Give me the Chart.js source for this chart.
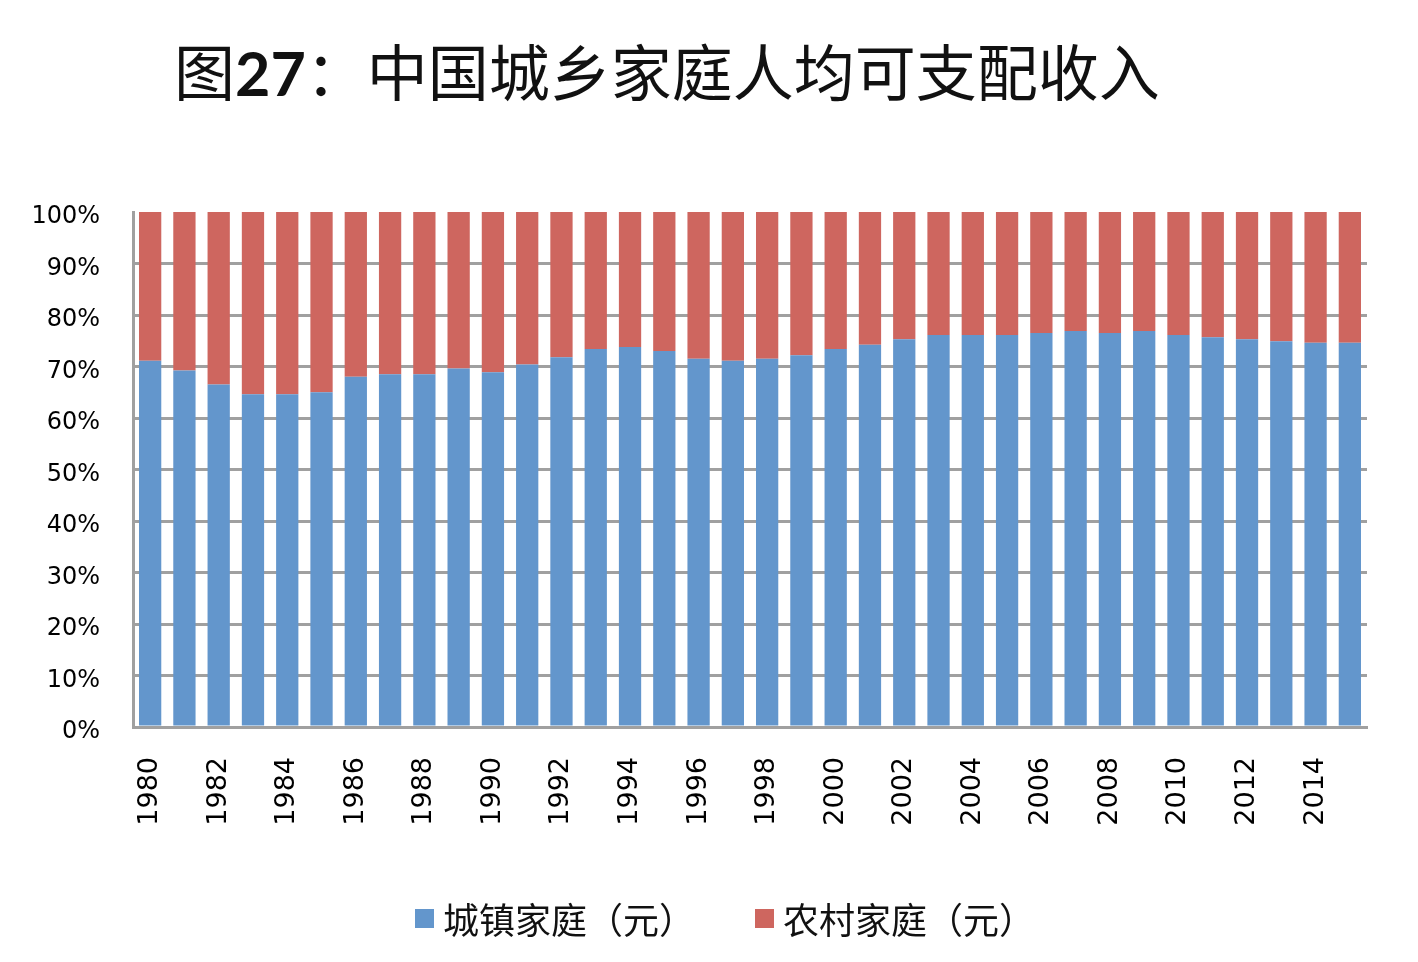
<!DOCTYPE html>
<html>
<head>
<meta charset="utf-8">
<script src="https://cdn.jsdelivr.net/npm/chart.js@4/dist/chart.umd.min.js"></script>
<style>
    html, body { margin: 0; padding: 0; background: #fff; }
    #wrap { position: relative; width: 1418px; height: 962px; overflow: hidden; }
    #chart { position: absolute; left: 0; top: 0; }
    #title {
        position: absolute; left: 174px; top: 37px; white-space: nowrap;
        font-family: "Noto Sans CJK SC", sans-serif; font-size: 61px; line-height: 66px; color: #111;
    }
    #title b { font-family: Lato, "Open Sans", sans-serif; font-weight: 700; }
    #legend {
        position: absolute; left: 415px; top: 896px; height: 44px; display: flex; align-items: center;
        font-family: "Noto Sans CJK SC", sans-serif; font-size: 36px; color: #111;
    }
    .item { display: flex; align-items: center; margin-right: 60px; }
    .box { width: 19px; height: 19px; margin-right: 9px; }
</style>
</head>
<body>
<div id="wrap">
    <canvas id="chart" width="1418" height="962"></canvas>
    <div id="title">图<b>27</b>：中国城乡家庭人均可支配收入</div>
    <div id="legend"></div>
</div>
<script>
const years = [
    '1980', '1981', '1982', '1983', '1984', '1985', '1986', '1987', '1988', '1989',
    '1990', '1991', '1992', '1993', '1994', '1995', '1996', '1997', '1998', '1999',
    '2000', '2001', '2002', '2003', '2004', '2005', '2006', '2007', '2008', '2009',
    '2010', '2011', '2012', '2013', '2014', '2015'
];

// share of per-capita disposable income, %
const urbanShare = [
    71.1, 69.2, 66.5, 64.6, 64.6, 65.0, 68.0, 68.5, 68.5, 69.6,
    68.9, 70.4, 71.8, 73.4, 73.8, 73.0, 71.5, 71.1, 71.5, 72.2,
    73.4, 74.2, 75.3, 76.1, 76.1, 76.1, 76.5, 76.9, 76.5, 76.9,
    76.1, 75.7, 75.3, 74.9, 74.6, 74.6
];
const ruralShare = [
    28.9, 30.8, 33.5, 35.4, 35.4, 35.0, 32.0, 31.5, 31.5, 30.4,
    31.1, 29.6, 28.2, 26.6, 26.2, 27.0, 28.5, 28.9, 28.5, 27.8,
    26.6, 25.8, 24.7, 23.9, 23.9, 23.9, 23.5, 23.1, 23.5, 23.1,
    23.9, 24.3, 24.7, 25.1, 25.4, 25.4
];

const seriesNames = ['城镇家庭（元）', '农村家庭（元）'];
const seriesColors = ['#6396CC', '#CE665F'];
const yTicks = [0, 10, 20, 30, 40, 50, 60, 70, 80, 90, 100];

const fontFamily = '"DejaVu Sans", Verdana, sans-serif';
const gridGray = '#a0a0a0';

const chart = new Chart(document.getElementById('chart'), {
    type: 'bar',
    data: {
        labels: years,
        datasets: [
            { label: seriesNames[0], data: urbanShare, backgroundColor: seriesColors[0] },
            { label: seriesNames[1], data: ruralShare, backgroundColor: seriesColors[1] }
        ]
    },
    options: {
        responsive: false,
        animation: false,
        layout: { padding: { top: 212, right: 51, bottom: 0, left: 0 } },
        datasets: { bar: { categoryPercentage: 1, barPercentage: 0.65 } },
        plugins: { legend: { display: false }, tooltip: { enabled: false } },
        scales: {
            x: {
                stacked: true,
                grid: { display: false, drawTicks: false },
                border: { color: gridGray, width: 3 },
                ticks: {
                    autoSkip: false, minRotation: 90, maxRotation: 90, padding: 30,
                    color: '#000', font: { family: fontFamily, size: 27 },
                    callback: (v, i) => (i % 2 === 0 ? years[i] : '')
                },
                afterFit: (scale) => { scale.height = 235; }
            },
            y: {
                stacked: true,
                min: 0,
                max: 100,
                afterBuildTicks: (scale) => { scale.ticks = yTicks.map(v => ({ value: v })); },
                grid: {
                    drawTicks: false,
                    lineWidth: 3,
                    color: (ctx) => (ctx.tick && ctx.tick.value === 100 ? 'rgba(0,0,0,0)' : gridGray)
                },
                border: { color: gridGray, width: 3 },
                ticks: {
                    padding: 33, labelOffset: 5, color: '#000',
                    font: { family: fontFamily, size: 24 },
                    callback: v => v + '%'
                },
                afterFit: (scale) => { scale.width = 133; }
            }
        }
    }
});

// legend
const legendEl = document.getElementById('legend');
seriesNames.forEach((name, i) => {
    const item = document.createElement('div');
    item.className = 'item';
    item.innerHTML = `<span class="box" style="background:${seriesColors[i]}"></span><span>${name}</span>`;
    legendEl.appendChild(item);
});
</script>
</body>
</html>
